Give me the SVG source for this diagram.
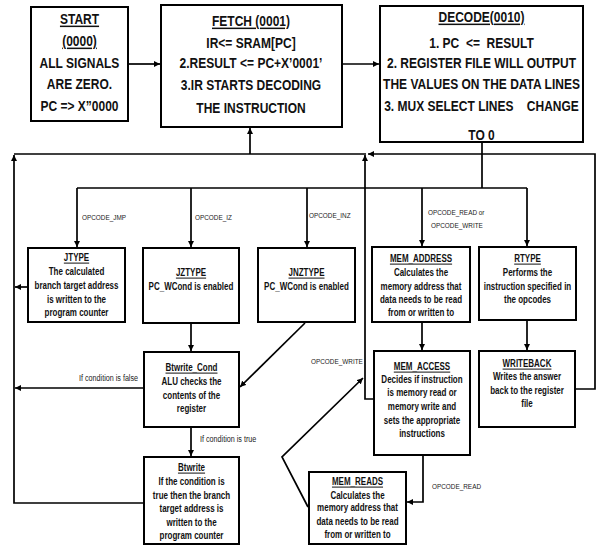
<svg xmlns="http://www.w3.org/2000/svg" width="596" height="546" viewBox="0 0 596 546">
<defs>
<marker id="ah" viewBox="0 0 10 10" refX="10" refY="5" markerWidth="6" markerHeight="6" markerUnits="userSpaceOnUse" orient="auto">
<path d="M0,0 L10,5 L0,10 z" fill="#000"/>
</marker>
<style>
.box{fill:#fff;stroke:#000;stroke-width:2}
.big{font-family:"Liberation Sans",Arial,sans-serif;font-weight:bold;font-size:15px;text-anchor:middle;fill:#111}
.nt{font-family:"Liberation Sans",Arial,sans-serif;font-weight:bold;font-size:10px;text-anchor:middle;fill:#111}
.u{text-decoration:underline}
.lbl{font-family:"Liberation Sans",Arial,sans-serif;font-size:8px;fill:#222}
.lbl2{font-family:"Liberation Sans",Arial,sans-serif;font-size:9px;fill:#222}
.ln{fill:none;stroke:#000;stroke-width:1.7}
.ar{marker-end:url(#ah)}
</style>
</defs>
<rect width="596" height="546" fill="#fff"/>

<g id="connectors">
<path class="ln ar" d="M128,64 H160"/>
<path class="ln ar" d="M342,64 H379"/>
<path class="ln" d="M482,142 V188"/>
<path class="ln" d="M77,188 H527"/>
<path class="ln ar" d="M77,188 V247"/>
<path class="ln ar" d="M191,188 V247"/>
<path class="ln ar" d="M307,188 V247"/>
<path class="ln ar" d="M422,188 V246"/>
<path class="ln ar" d="M527,188 V246"/>
<path class="ln ar" d="M28,287 H15"/>
<path class="ln ar" d="M144,388 H15"/>
<path class="ln ar" d="M144,503 H14 V155"/>
<path class="ln" d="M14,154 H366"/>
<path class="ln ar" d="M250,154 V128"/>
<path class="ln ar" d="M576,389 H595 V154 H368"/>
<path class="ln ar" d="M374,399 H365 V155"/>
<path class="ln ar" d="M191,323 V351"/>
<path class="ln ar" d="M305,323 L240,387"/>
<path class="ln ar" d="M191,427 V456"/>
<path class="ln ar" d="M422,322 V350"/>
<path class="ln ar" d="M527,320 V350"/>
<path class="ln ar" d="M423,455 V502 H407"/>
<path class="ln ar" d="M308,507 L282,457 L363,378"/>
<text class="lbl" transform="translate(82 220) scale(0.8 1)">OPCODE_JMP</text>
<text class="lbl" transform="translate(195 220) scale(0.8 1)">OPCODE_IZ</text>
<text class="lbl" transform="translate(309 218) scale(0.8 1)">OPCODE_INZ</text>
<text class="lbl" transform="translate(428 215) scale(0.8 1)">OPCODE_READ or</text>
<text class="lbl" transform="translate(431 228) scale(0.8 1)">OPCODE_WRITE</text>
<text class="lbl2" transform="translate(79 381) scale(0.8 1)">If condition is false</text>
<text class="lbl2" transform="translate(200 442) scale(0.8 1)">If condition is true</text>
<text class="lbl" transform="translate(311 364) scale(0.8 1)">OPCODE_WRITE</text>
<text class="lbl" transform="translate(432 489) scale(0.8 1)">OPCODE_READ</text>
</g>

<g id="start">
<rect class="box" x="31" y="7" width="97" height="114"/>
<g transform="translate(79.5 0) scale(0.8 1)">
<text class="big u" x="0" y="24.5">START</text>
<text class="big u" x="0" y="46.5">(0000)</text>
<text class="big" x="0" y="68.5">ALL SIGNALS</text>
<text class="big" x="0" y="89.5">ARE ZERO.</text>
<text class="big" x="0" y="111.5">PC =&gt; X”0000</text>
</g>
</g>

<g id="fetch">
<rect class="box" x="161" y="5" width="181" height="122"/>
<g transform="translate(251 0) scale(0.8 1)">
<text class="big u" x="0" y="26.5">FETCH (0001)</text>
<text class="big" x="0" y="48.5">IR&lt;= SRAM[PC]</text>
<text class="big" x="0" y="68.5">2.RESULT &lt;= PC+X’0001’</text>
<text class="big" x="0" y="90.5">3.IR STARTS DECODING</text>
<text class="big" x="0" y="113.5">THE INSTRUCTION</text>
</g>
</g>

<g id="decode">
<rect class="box" x="380" y="6" width="203" height="136"/>
<g transform="translate(481.5 0) scale(0.8 1)">
<text class="big u" x="0" y="22.5">DECODE(0010)</text>
<text class="big" x="0" y="48" xml:space="preserve">1. PC  &lt;=  RESULT</text>
<text class="big" x="0" y="68.5">2. REGISTER FILE WILL OUTPUT</text>
<text class="big" x="0" y="89.5">THE VALUES ON THE DATA LINES</text>
<text class="big" x="0" y="111.5" xml:space="preserve">3. MUX SELECT LINES    CHANGE</text>
<text class="big" x="0" y="140">TO 0</text>
</g>
</g>

<g id="jtype">
<rect class="box" x="28" y="248" width="97" height="74"/>
<g transform="translate(76.5 0) scale(0.8 1)">
<text class="nt u" x="0" y="261.5">JTYPE</text>
<text class="nt" x="0" y="275.5">The calculated</text>
<text class="nt" x="0" y="289.5">branch target address</text>
<text class="nt" x="0" y="303.5">is written to the</text>
<text class="nt" x="0" y="316.5">program counter</text>
</g>
</g>

<g id="jztype">
<rect class="box" x="143" y="248" width="96" height="75"/>
<g transform="translate(191 0) scale(0.8 1)">
<text class="nt u" x="0" y="276.5">JZTYPE</text>
<text class="nt" x="0" y="290.5">PC_WCond is enabled</text>
</g>
</g>

<g id="jnztype">
<rect class="box" x="258" y="248" width="97" height="74"/>
<g transform="translate(306.5 0) scale(0.8 1)">
<text class="nt u" x="0" y="276.5">JNZTYPE</text>
<text class="nt" x="0" y="290.5">PC_WCond is enabled</text>
</g>
</g>

<g id="mem_address">
<rect class="box" x="372" y="247" width="98" height="75"/>
<g transform="translate(421 0) scale(0.8 1)">
<text class="nt u" x="0" y="262.5">MEM_ADDRESS</text>
<text class="nt" x="0" y="276.5">Calculates the</text>
<text class="nt" x="0" y="290.5">memory address that</text>
<text class="nt" x="0" y="303.5">data needs to be read</text>
<text class="nt" x="0" y="316.5">from or written to</text>
</g>
</g>

<g id="rtype">
<rect class="box" x="479" y="247" width="97" height="73"/>
<g transform="translate(527.5 0) scale(0.8 1)">
<text class="nt u" x="0" y="262.5">RTYPE</text>
<text class="nt" x="0" y="276.5">Performs the</text>
<text class="nt" x="0" y="290.5">instruction specified in</text>
<text class="nt" x="0" y="303.5">the opcodes</text>
</g>
</g>

<g id="btwrite_cond">
<rect class="box" x="144" y="352" width="95" height="75"/>
<g transform="translate(191.5 0) scale(0.8 1)">
<text class="nt u" x="0" y="371.5">Btwrite_Cond</text>
<text class="nt" x="0" y="385.5">ALU checks the</text>
<text class="nt" x="0" y="399.5">contents of the</text>
<text class="nt" x="0" y="412.5">register</text>
</g>
</g>

<g id="btwrite">
<rect class="box" x="144" y="457" width="95" height="87"/>
<g transform="translate(191.5 0) scale(0.8 1)">
<text class="nt u" x="0" y="471.5">Btwrite</text>
<text class="nt" x="0" y="485.5">If the condition is</text>
<text class="nt" x="0" y="499.5">true then the branch</text>
<text class="nt" x="0" y="512.5">target address is</text>
<text class="nt" x="0" y="526.5">written to the</text>
<text class="nt" x="0" y="539.5">program counter</text>
</g>
</g>

<g id="mem_access">
<rect class="box" x="374" y="351" width="96" height="104"/>
<g transform="translate(422 0) scale(0.8 1)">
<text class="nt u" x="0" y="370.5">MEM_ACCESS</text>
<text class="nt" x="0" y="383.5">Decides if instruction</text>
<text class="nt" x="0" y="396.5">is memory read or</text>
<text class="nt" x="0" y="410.5">memory write and</text>
<text class="nt" x="0" y="424.5">sets the appropriate</text>
<text class="nt" x="0" y="437.5">instructions</text>
</g>
</g>

<g id="writeback">
<rect class="box" x="479" y="351" width="96" height="76"/>
<g transform="translate(527 0) scale(0.8 1)">
<text class="nt u" x="0" y="367.5">WRITEBACK</text>
<text class="nt" x="0" y="380.5">Writes the answer</text>
<text class="nt" x="0" y="394.5">back to the register</text>
<text class="nt" x="0" y="407.5">file</text>
</g>
</g>

<g id="mem_reads">
<rect class="box" x="309" y="472" width="97" height="72"/>
<g transform="translate(357.5 0) scale(0.8 1)">
<text class="nt u" x="0" y="485.5">MEM_READS</text>
<text class="nt" x="0" y="499.5">Calculates the</text>
<text class="nt" x="0" y="511.5">memory address that</text>
<text class="nt" x="0" y="525.5">data needs to be read</text>
<text class="nt" x="0" y="538.5">from or written to</text>
</g>
</g>
</svg>
